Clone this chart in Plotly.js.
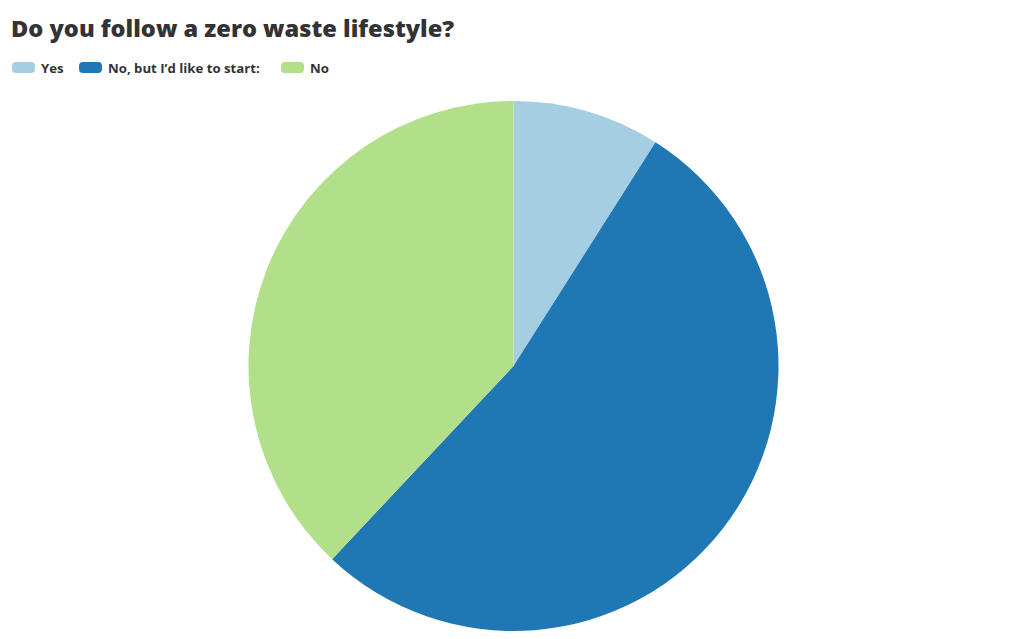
<!DOCTYPE html>
<html><head><meta charset="utf-8">
<script src="https://cdn.plot.ly/plotly-3.0.1.min.js"></script>
<style>html,body{margin:0;padding:0;background:#fff}#chart{width:1024px;height:639px}</style>
</head><body><div id="chart"></div>
<script>
const labels = ["Yes", "No, but I\u2019d like to start:", "No"];
const values = [9, 53, 38];
const colors = ["#a6cee3", "#1f78b4", "#b2df8a"];
const titleText = "Do you follow a zero waste lifestyle?";

const W = 1024, H = 639;
const px = x => x / W, py = y => 1 - y / H;

// custom legend (rounded swatches)
const legendX = [12, 79, 281];
const shapes = [], annotations = [];
function rr(x0, y0, x1, y1, r) {
  return `M${px(x0+r)},${py(y0)} L${px(x1-r)},${py(y0)} Q${px(x1)},${py(y0)} ${px(x1)},${py(y0+r)} L${px(x1)},${py(y1-r)} Q${px(x1)},${py(y1)} ${px(x1-r)},${py(y1)} L${px(x0+r)},${py(y1)} Q${px(x0)},${py(y1)} ${px(x0)},${py(y1-r)} L${px(x0)},${py(y0+r)} Q${px(x0)},${py(y0)} ${px(x0+r)},${py(y0)} Z`;
}
labels.forEach((l, i) => {
  const x = legendX[i];
  shapes.push({type: 'path', xref: 'paper', yref: 'paper', path: rr(x, 62, x + 23, 73, 4),
    fillcolor: colors[i], line: {width: 0}});
  annotations.push({xref: 'paper', yref: 'paper', x: px(x + 27), y: py(68), xanchor: 'left', yanchor: 'middle',
    text: l, showarrow: false, font: {family: 'Open Sans, sans-serif', size: 13.2, color: '#333', weight: 700}});
});

const data = [{
  type: 'pie', labels: labels, values: values, sort: false, direction: 'clockwise', rotation: 0,
  marker: {colors: colors, line: {width: 0}}, textinfo: 'none', hoverinfo: 'label+percent',
  domain: {x: [px(513.5 - 265), px(513.5 + 265)], y: [py(631), py(101)]}
}];
const layout = {
  width: W, height: H, margin: {l: 0, r: 0, t: 0, b: 0}, showlegend: false,
  paper_bgcolor: '#fff',
  title: {text: titleText, x: px(11), xanchor: 'left', y: py(29), yanchor: 'middle',
    font: {family: 'Open Sans, sans-serif', size: 23.6, color: '#333', weight: 800}},
  shapes: shapes, annotations: annotations
};
Plotly.newPlot('chart', data, layout, {displayModeBar: false});
</script></body></html>
